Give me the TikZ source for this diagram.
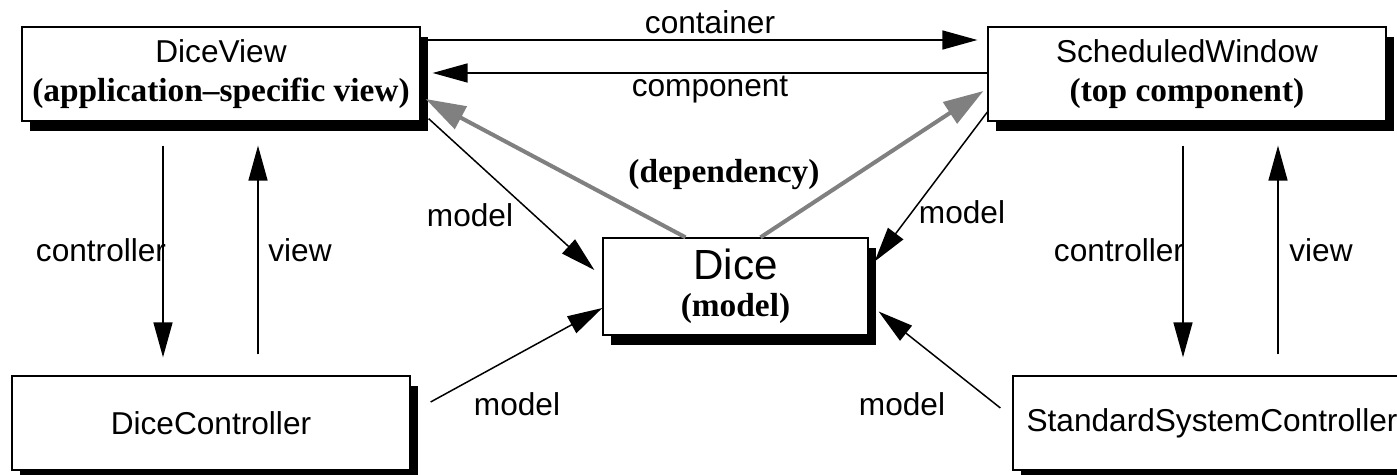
\documentclass[tikz,border=0pt]{standalone}
\usepackage{fontspec}
\setmainfont{Liberation Serif}
\setsansfont{Liberation Sans}
\usepackage{tikz}
\usetikzlibrary{
arrows.meta,
shadows
}
\definecolor{depgray}{RGB}{128,128,128}

\begin{document}
\begin{tikzpicture}[
  x=0.02cm, y=-0.02cm,
  >={Triangle[length=0.7cm, width=0.38cm]},
  box/.style={draw, line width=0.75pt, fill=white, minimum width=7.96cm, minimum height=1.88cm, align=center, inner sep=0pt, font=\fontsize{18}{21}\selectfont\sffamily, drop shadow={shadow xshift=0.16cm, shadow yshift=-0.2cm, fill=black, opacity=1}},
  lbl/.style={font=\fontsize{18}{21}\selectfont\sffamily, inner sep=1pt},
  role/.style={font=\fontsize{19}{21}\selectfont\rmfamily\bfseries},
  link/.style={draw, line width=0.85pt, ->},
  dep/.style={draw, depgray, line width=2.3pt, -{Triangle[length=0.8cm, width=0.5cm]}}
]
\useasboundingbox (0,0) rectangle (1397,475);

% Boxes
\node[box] (view) at (221,74) {DiceView\\[1pt]{\fontsize{19}{21}\selectfont\rmfamily\bfseries (application--specific view)}};
\node[box] (window) at (1187,74) {ScheduledWindow\\[1pt]{\fontsize{19}{21}\selectfont\rmfamily\bfseries (top component)}};
\node[box, minimum width=5.3cm, minimum height=1.94cm] (dice) at (735.5,286.5) {{\fontsize{24}{26}\selectfont Dice}\\[0pt]{\fontsize{19}{21}\selectfont\rmfamily\bfseries (model)}};
\node[box] (ctrl) at (211,423) {DiceController};
\node[box] (sysctrl) at (1212,423) {StandardSystemController};

% Labels
\node[lbl] (lcontainer) at (710,22) {container};
\node[lbl] (lcomponent) at (710,90) {component};
\node[role] (ldep) at (724,175) {(dependency)};
\node[lbl] (lmodel1) at (470,215) {model};
\node[lbl] (lmodel2) at (962,212) {model};
\node[lbl] (lmodel3) at (517,404) {model};
\node[lbl] (lmodel4) at (902,404) {model};
\node[lbl] (lctrl1) at (101,250) {controller};
\node[lbl] (lview1) at (300,250) {view};
\node[lbl] (lctrl2) at (1119,250) {controller};
\node[lbl] (lview2) at (1321,250) {view};

% Edges
\draw[link, shorten >=0.2cm] ([yshift=0.68cm]view.east) -- ([yshift=0.68cm]window.west);
\draw[link, shorten >=0.24cm] ([yshift=0.02cm]window.west) -- ([yshift=0.02cm]view.east);
\draw[dep] ([xshift=-1cm]dice.north) -- ([xshift=0.1cm, yshift=-0.5cm]view.east);
\draw[dep] ([xshift=0.5cm]dice.north) -- ([xshift=-0.08cm, yshift=-0.34cm]window.west);
\draw[link] ([xshift=0.16cm, yshift=0.06cm]view.south east) -- ([yshift=0.33cm, xshift=-0.16cm]dice.west);
\draw[link] ([yshift=-0.76cm]window.west) -- ([yshift=0.5cm, xshift=0.12cm]dice.east);
\draw[link] ([xshift=0.4cm, yshift=0.42cm]ctrl.east) -- ([yshift=-0.43cm]dice.west);
\draw[link] ([xshift=-0.24cm, yshift=0.3cm]sysctrl.west) -- ([yshift=-0.5cm, xshift=0.2cm]dice.east);
\draw[link, shorten <=0.48cm, shorten >=0.36cm] (163,0 |- view.south) -- (163,0 |- ctrl.north);
\draw[link, shorten <=0.42cm, shorten >=0.48cm] (258,0 |- ctrl.north) -- (258,0 |- view.south);
\draw[link, shorten <=0.48cm, shorten >=0.36cm] (1183,0 |- window.south) -- (1183,0 |- sysctrl.north);
\draw[link, shorten <=0.42cm, shorten >=0.48cm] (1278,0 |- sysctrl.north) -- (1278,0 |- window.south);

\end{tikzpicture}
\end{document}
